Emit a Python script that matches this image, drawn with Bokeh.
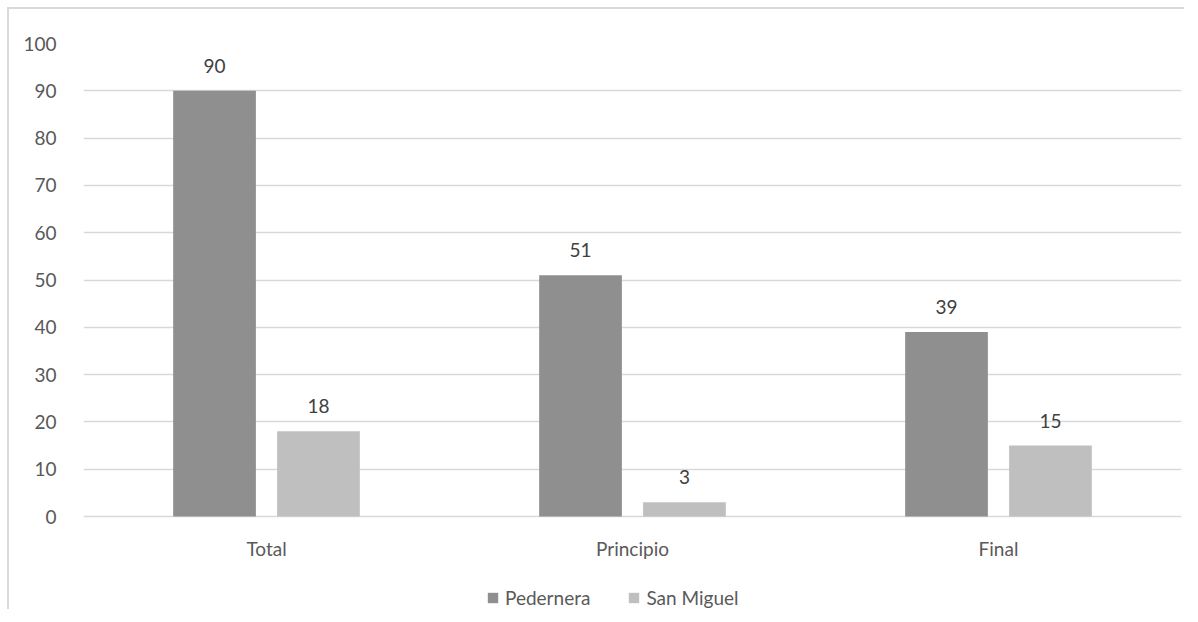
from bokeh.plotting import figure
from bokeh.models import ColumnDataSource, FactorRange, Range1d, Legend, LegendItem
from bokeh.layouts import column
from bokeh.transform import dodge
from bokeh.core.properties import value
from bokeh.embed import file_html
from bokeh.resources import INLINE

categories = ["Total", "Principio", "Final"]
pedernera = [90, 51, 39]
san_miguel = [18, 3, 15]
series_names = ["Pedernera", "San Miguel"]
y_ticks = [0, 10, 20, 30, 40, 50, 60, 70, 80, 90, 100]

FONT = "Lato"
FS = "19px"
DARK = "#8f8f8f"
LIGHT = "#bfbfbf"
AXIS_TXT = "#595959"
LBL_TXT = "#404040"
GRID = "#d9d9d9"

src = ColumnDataSource(dict(
    cat=categories,
    zero=[0] * len(categories),
    ped=pedernera,
    sm=san_miguel,
    ped_txt=[str(v) for v in pedernera],
    sm_txt=[str(v) for v in san_miguel],
))

# frame spans down to the bottom of the canvas so the category labels and
# legend can sit inside it (below the zero line)
p = figure(
    x_range=FactorRange(factors=categories, range_padding=0),
    y_range=Range1d(-19.66, 100),
    width=1175, height=600,
    output_backend="svg", toolbar_location=None,
    min_border_left=74, min_border_right=3, min_border_top=34, min_border_bottom=0,
)

BW = 0.226
OFF = 0.142
r1 = p.vbar(x=dodge("cat", -OFF, range=p.x_range), top="ped", width=BW, source=src,
            fill_color=DARK, line_color=None)
r2 = p.vbar(x=dodge("cat", OFF, range=p.x_range), top="sm", width=BW, source=src,
            fill_color=LIGHT, line_color=None)

for col, txt, off in (("ped", "ped_txt", -OFF), ("sm", "sm_txt", OFF)):
    p.text(x=dodge("cat", off, range=p.x_range), y=col, text=txt, source=src,
           text_align="center", text_baseline="bottom", y_offset=-18,
           text_font=value(FONT), text_font_size=FS, text_color=LBL_TXT)

# category labels under the zero line
p.text(x="cat", y="zero", text="cat", source=src,
       text_align="center", text_baseline="middle", y_offset=32,
       text_font=value(FONT), text_font_size=FS, text_color=AXIS_TXT)

p.outline_line_color = None
p.xaxis.visible = False
p.xgrid.grid_line_color = None
p.ygrid.grid_line_color = GRID
p.ygrid.grid_line_width = 1.5
p.yaxis.ticker = y_ticks
p.yaxis.axis_line_color = None
p.yaxis.major_tick_line_color = None
p.yaxis.minor_tick_line_color = None
p.yaxis.major_label_standoff = 21
p.yaxis.major_label_text_font = FONT
p.yaxis.major_label_text_font_size = FS
p.yaxis.major_label_text_color = AXIS_TXT

legend = Legend(
    items=[LegendItem(label=series_names[0], renderers=[r1]),
           LegendItem(label=series_names[1], renderers=[r2])],
    orientation="horizontal", location=(403, 0),
    glyph_width=13, glyph_height=13, spacing=37, label_standoff=6,
    label_text_font=FONT, label_text_font_size=FS, label_text_color=AXIS_TXT,
    border_line_color=None, background_fill_alpha=0, margin=0, padding=0,
)
p.add_layout(legend, "center")

layout = column(p, margin=(7, 0, 0, 7),
                styles={"border-left": f"2px solid {GRID}", "border-top": f"2px solid {GRID}"})

open("out.html", "w").write(file_html(layout, INLINE))
